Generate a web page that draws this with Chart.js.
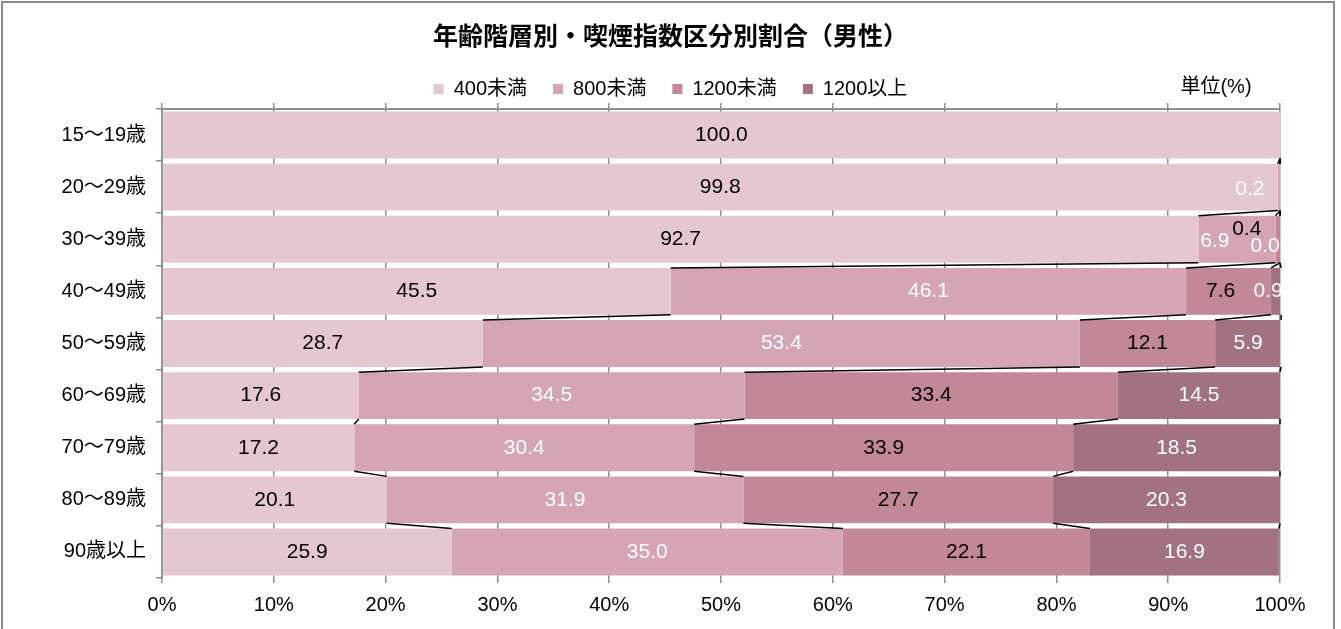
<!DOCTYPE html>
<html lang="ja">
<head>
  <meta charset="UTF-8">
  <title>年齢階層別・喫煙指数区分別割合（男性）</title>
  <style>
    body {
      margin: 0;
      padding: 0;
      background-color: #fff;
      overflow: hidden;
    }
    .wrap {
      position: relative;
      width: 1341px;
      height: 629px;
    }
    .frame {
      position: absolute;
      left: 1px;
      top: 1px;
      width: 1330px;
      height: 660px;
      border: 2px solid #8a8a8a;
      pointer-events: none;
    }
    canvas {
      position: absolute;
      left: 0;
      top: 0;
    }
  </style>
</head>
<body>
  <div class="wrap">
    <canvas id="chart" width="1341" height="629"></canvas>
    <div class="frame"></div>
  </div>

  <script src="https://cdn.jsdelivr.net/npm/chart.js"></script>
  <script>
    // age groups
    const ageGroups = ['15～19歳', '20～29歳', '30～39歳', '40～49歳', '50～59歳',
                       '60～69歳', '70～79歳', '80～89歳', '90歳以上'];

    // share by smoking index (%)
    const under400  = [100.0, 99.8, 92.7, 45.5, 28.7, 17.6, 17.2, 20.1, 25.9];
    const under800  = [null,   0.2,  6.9, 46.1, 53.4, 34.5, 30.4, 31.9, 35.0];
    const under1200 = [null,  null,  0.4,  7.6, 12.1, 33.4, 33.9, 27.7, 22.1];
    const over1200  = [null,  null,  0.0,  0.9,  5.9, 14.5, 18.5, 20.3, 16.9];

    const seriesNames = ['400未満', '800未満', '1200未満', '1200以上'];
    const seriesColors = ['#e4c7d1', '#d6a5b5', '#c28798', '#a27282'];
    const labelColors = ['#000', '#fff', '#000', '#fff'];
    const xTicks = [0, 10, 20, 30, 40, 50, 60, 70, 80, 90, 100];

    const FONT = "'Liberation Sans', 'Noto Sans CJK JP', sans-serif";
    const GRID = '#8f8f8f';

    // small nudges for the crowded labels at the right end (dataset-row -> [dx, dy])
    const labelNudge = {
      '1-1': [-29, 2],
      '1-2': [-22, 2],
      '2-2': [-31, -10],
      '3-2': [-15, 7],
      '2-3': [-8, 0],
      '3-3': [-8, 0]
    };

    const allSeries = [under400, under800, under1200, over1200];

    // Excel-like series lines joining the segment ends of neighbouring bars
    const seriesLines = {
      id: 'seriesLines',
      afterDatasetsDraw(chart) {
        const ctx = chart.ctx;
        const x = chart.scales.x;
        const bars = chart.getDatasetMeta(0).data;
        ctx.save();
        ctx.strokeStyle = '#000';
        ctx.lineWidth = 1.5;
        for (let i = 0; i < allSeries.length; i++) {
          for (let j = 0; j < ageGroups.length - 1; j++) {
            let a = 0, b = 0;
            for (let k = 0; k <= i; k++) {
              a += allSeries[k][j] || 0;
              b += allSeries[k][j + 1] || 0;
            }
            const top = bars[j], bottom = bars[j + 1];
            ctx.beginPath();
            ctx.moveTo(x.getPixelForValue(a), top.y + top.height / 2);
            ctx.lineTo(x.getPixelForValue(b), bottom.y - bottom.height / 2);
            ctx.stroke();
          }
        }
        ctx.restore();
      }
    };

    // value labels inside the segments
    const valueLabels = {
      id: 'valueLabels',
      afterDatasetsDraw(chart) {
        const ctx = chart.ctx;
        const area = chart.chartArea;
        ctx.save();
        ctx.beginPath();
        ctx.rect(area.left, area.top - 20, area.right - area.left + 2, area.bottom - area.top + 20);
        ctx.clip();
        ctx.font = '21px ' + FONT;
        ctx.textAlign = 'center';
        ctx.textBaseline = 'middle';
        chart.data.datasets.forEach((ds, i) => {
          chart.getDatasetMeta(i).data.forEach((bar, j) => {
            const v = ds.data[j];
            if (v === null || v === undefined) return;
            const nudge = labelNudge[i + '-' + j] || [0, 0];
            ctx.fillStyle = labelColors[i];
            ctx.fillText(v.toFixed(1), (bar.x + bar.base) / 2 + nudge[0], bar.y + nudge[1]);
          });
        });
        ctx.restore();
      }
    };

    const unitText = {
      id: 'unitText',
      afterDraw(chart) {
        const ctx = chart.ctx;
        ctx.save();
        ctx.font = '20px ' + FONT;
        ctx.fillStyle = '#000';
        ctx.textAlign = 'center';
        ctx.textBaseline = 'middle';
        ctx.fillText('単位(%)', 1216, 87);
        ctx.restore();
      }
    };

    new Chart(document.getElementById('chart'), {
      type: 'bar',
      data: {
        labels: ageGroups,
        datasets: allSeries.map((d, i) => ({
          label: seriesNames[i],
          data: d,
          backgroundColor: seriesColors[i],
          borderWidth: 0,
          barPercentage: 0.9,
          categoryPercentage: 1
        }))
      },
      options: {
        indexAxis: 'y',
        responsive: false,
        animation: false,
        layout: { padding: { left: 61, right: 61, top: 2, bottom: 0 } },
        plugins: {
          title: {
            display: true,
            text: '年齢階層別・喫煙指数区分別割合（男性）',
            color: '#000',
            font: { family: FONT, size: 25, weight: 'bold' },
            padding: { top: 21, bottom: 0 }
          },
          legend: {
            display: true,
            labels: {
              color: '#000',
              font: { family: FONT, size: 20 },
              boxWidth: 10,
              boxHeight: 10,
              padding: 26
            }
          },
          tooltip: { enabled: false }
        },
        scales: {
          x: {
            stacked: true,
            min: 0,
            max: 100,
            afterFit(scale) { scale.height = 51; },
            afterBuildTicks(scale) { scale.ticks = xTicks.map(v => ({ value: v })); },
            ticks: {
              color: '#000',
              font: { family: FONT, size: 20 },
              padding: 10,
              callback: v => v + '%'
            },
            grid: { color: GRID, lineWidth: 1.5, tickLength: 5 },
            border: { display: false }
          },
          x2: {
            position: 'top',
            min: 0,
            max: 100,
            afterFit(scale) { scale.height = 0; },
            afterBuildTicks(scale) { scale.ticks = xTicks.map(v => ({ value: v })); },
            ticks: { display: false },
            grid: { drawOnChartArea: false, color: GRID, lineWidth: 1.5, tickLength: 6 },
            border: { color: GRID, width: 2 }
          },
          y: {
            stacked: true,
            afterFit(scale) { scale.width = 101; },
            ticks: {
              color: '#000',
              font: { family: FONT, size: 20 },
              padding: 10
            },
            grid: { offset: true, drawOnChartArea: false, color: GRID, lineWidth: 1.5, tickLength: 6 },
            border: { color: GRID, width: 2 }
          }
        }
      },
      plugins: [seriesLines, valueLabels, unitText]
    });
  </script>
</body>
</html>
